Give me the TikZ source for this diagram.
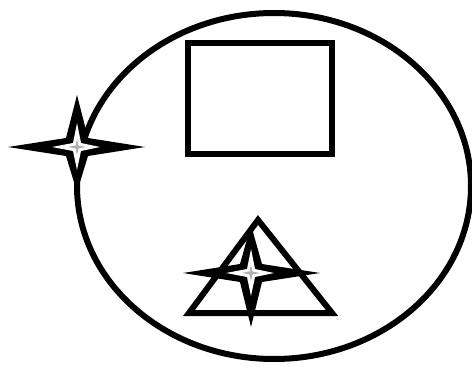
\documentclass[tikz,border=0pt]{standalone}
\usetikzlibrary{shapes.geometric,calc}
\begin{document}
\begin{tikzpicture}[x=1pt,y=-1pt,line join=miter]
\tikzset{
  pics/fourstar/.style n args={4}{code={
    \fill[black] (-#1,0) -- (-11,-9) -- (0,-#3) -- (11,-9) -- (#2,0) -- (11,9) -- (0,#4) -- (-11,9) -- cycle;
    \fill[white] (-25,0) -- (-4,-4) -- (0,-24) -- (4,-4) -- (23,0) -- (4,4) -- (0,23) -- (-4,4) -- cycle;
    \fill[gray!60] (-9,0) -- (-1.5,-1.5) -- (0,-8) -- (1.5,-1.5) -- (9,0) -- (1.5,1.5) -- (0,8) -- (-1.5,1.5) -- cycle;
  }}}
\useasboundingbox (0,0) rectangle (472,367);
\node[draw,ellipse,line width=6pt,minimum width=394pt,minimum height=346pt,inner sep=0pt] (ell) at (274,186) {};
\node[draw,line width=6pt,minimum width=144pt,minimum height=111pt,inner sep=0pt] (rect) at (260,98.5) {};
\draw[line width=6pt,line join=miter] (258,220) coordinate (tA) -- (332,313) coordinate (tB) -- (189,313) coordinate (tC) -- cycle;
\pic at (77,147) {fourstar={69}{68}{52}{45}};
\pic at (251,273) {fourstar={68}{69}{48}{54}};
\end{tikzpicture}
\end{document}
